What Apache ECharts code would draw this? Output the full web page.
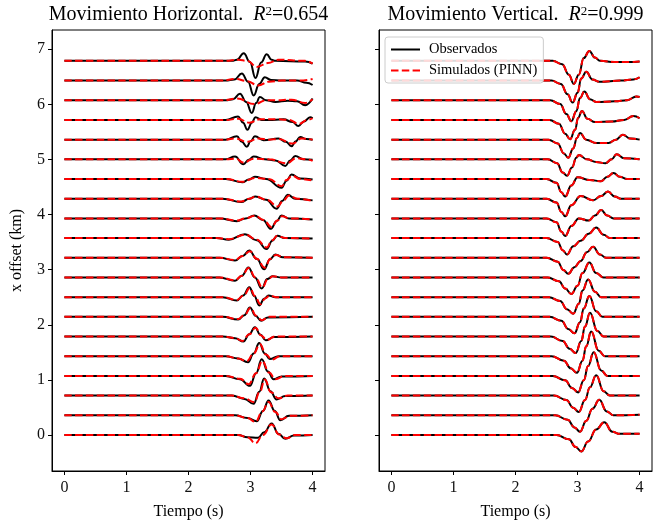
<!DOCTYPE html>
<html><head><meta charset="utf-8">
<script src="https://cdn.jsdelivr.net/npm/echarts@6/dist/echarts.min.js"></script>
<style>html,body{margin:0;padding:0;background:#fff}#c{width:660px;height:525px}</style>
</head><body><div id="c"></div>
<script>
// ---- data ----
const offsets = [0, 0.357, 0.715, 1.072, 1.429, 1.787, 2.144, 2.501, 2.859, 3.216,
                 3.574, 3.931, 4.288, 4.646, 5.003, 5.360, 5.718, 6.075, 6.432, 6.790];
const timeTicks = [0, 1, 2, 3, 4];
const offsetTicks = [0, 1, 2, 3, 4, 5, 6, 7];
const titleH = 'Movimiento Horizontal.';
const titleV = 'Movimiento Vertical.';
const r2H = '0.654';
const r2V = '0.999';

// keypoints [time (s), amplitude (km units)] per trace, index 0 = bottom trace
const hObs = [
 [[0,0],[2.8,0],[2.95,-0.04],[3.12,-0.05],[3.22,0.05],[3.34,0.21],[3.45,0.02],[3.56,-0.07],[3.7,-0.01],[4,0]],
 [[0,0],[2.75,0],[2.95,-0.05],[3.1,-0.11],[3.2,0.08],[3.29,0.27],[3.39,0.08],[3.48,-0.09],[3.62,-0.01],[4,0]],
 [[0,0],[2.7,0],[2.9,-0.06],[3.05,-0.15],[3.14,0.07],[3.22,0.31],[3.32,0.08],[3.42,-0.07],[3.56,-0.01],[4,0]],
 [[0,0],[2.6,0],[2.83,-0.06],[2.99,-0.18],[3.09,0.05],[3.18,0.30],[3.28,0.08],[3.37,-0.06],[3.5,-0.01],[4,0]],
 [[0,0],[2.6,0],[2.8,-0.04],[2.96,-0.11],[3.05,0.05],[3.14,0.24],[3.23,0.05],[3.31,-0.05],[3.45,0],[4,0]],
 [[0,0],[2.55,0],[2.75,-0.03],[2.885,-0.09],[2.98,0.04],[3.07,0.17],[3.16,0.03],[3.245,-0.07],[3.38,-0.01],[4,0]],
 [[0,0],[2.55,0],[2.8,-0.05],[2.9,0.03],[2.99,0.17],[3.08,0.02],[3.17,-0.07],[3.28,-0.01],[4,0]],
 [[0,0],[2.55,0],[2.78,-0.06],[2.88,0.03],[2.98,0.18],[3.06,0.02],[3.14,-0.15],[3.22,-0.03],[3.29,0.03],[3.4,0],[4,0]],
 [[0,0],[2.5,0],[2.75,-0.06],[2.86,0.03],[2.965,0.18],[3.07,0.0],[3.18,-0.2],[3.27,-0.03],[3.35,0.02],[3.5,0],[4,0]],
 [[0,0],[2.5,0],[2.75,-0.05],[2.87,0.03],[2.98,0.13],[3.1,-0.02],[3.22,-0.21],[3.31,-0.03],[3.4,0.06],[3.52,0.01],[4,0]],
 [[0,0],[2.45,0],[2.65,-0.03],[2.91,0.07],[3.1,-0.04],[3.26,-0.2],[3.35,-0.05],[3.43,0.04],[3.55,0],[4,-0.01]],
 [[0,0],[2.5,0],[2.78,-0.05],[2.92,0.0],[3.06,0.05],[3.2,-0.03],[3.33,-0.19],[3.42,-0.05],[3.5,0.05],[3.62,0.0],[4,-0.02]],
 [[0,0],[2.55,0],[2.85,-0.06],[2.98,0.0],[3.08,0.04],[3.25,-0.02],[3.42,-0.18],[3.51,-0.04],[3.6,0.07],[3.72,0.0],[4,-0.03]],
 [[0,0],[2.6,0],[2.87,-0.06],[2.97,-0.01],[3.07,0.04],[3.25,0.0],[3.5,-0.16],[3.58,-0.03],[3.66,0.08],[3.8,0.01],[4,-0.01]],
 [[0,0],[2.6,0],[2.75,0.05],[2.885,-0.09],[2.97,-0.01],[3.05,0.05],[3.23,0.0],[3.4,-0.02],[3.56,-0.12],[3.64,-0.02],[3.72,0.06],[3.85,0.0],[4,-0.01]],
 [[0,0],[2.6,0],[2.78,0.06],[2.86,-0.04],[2.94,-0.13],[3.0,-0.03],[3.07,0.06],[3.21,-0.01],[3.45,0.02],[3.57,-0.04],[3.66,-0.12],[3.73,-0.03],[3.8,0.05],[3.9,0.01],[4,0]],
 [[0,0],[2.6,0],[2.8,0.06],[2.88,-0.05],[2.95,-0.18],[3.02,-0.05],[3.08,0.05],[3.18,0.0],[3.29,0.0],[3.53,0.01],[3.68,-0.04],[3.77,-0.11],[3.86,-0.03],[3.96,0.05],[4,0.03]],
 [[0,0],[2.6,0],[2.72,0.02],[2.83,0.12],[2.93,-0.03],[3.02,-0.23],[3.09,-0.05],[3.15,0.06],[3.25,0.0],[3.4,-0.03],[3.6,-0.01],[3.75,-0.02],[3.88,-0.09],[4,0.03]],
 [[0,0],[2.6,0],[2.74,0.02],[2.86,0.13],[2.96,-0.02],[3.05,-0.27],[3.14,-0.06],[3.23,0.06],[3.33,0.01],[3.5,0.0],[3.75,0.0],[3.9,-0.04],[4,-0.08]],
 [[0,0],[2.7,0],[2.78,0.02],[2.89,0.14],[2.99,-0.02],[3.08,-0.31],[3.17,-0.03],[3.26,0.12],[3.34,0.02],[3.4,0.0],[3.88,-0.01],[4,-0.05]]
];
const hSim = [
 [[0,0],[2.8,0],[2.95,-0.04],[3.08,-0.15],[3.2,0.0],[3.34,0.19],[3.46,0.01],[3.58,-0.06],[3.72,0],[4,0]],
 [[0,0],[2.75,0],[2.95,-0.05],[3.08,-0.12],[3.19,0.07],[3.29,0.24],[3.4,0.06],[3.5,-0.07],[3.64,-0.01],[4,0]],
 [[0,0],[2.7,0],[2.9,-0.05],[3.06,-0.12],[3.15,0.07],[3.23,0.29],[3.33,0.06],[3.45,-0.05],[3.6,0],[4,0]],
 [[0,0],[2.6,0],[2.83,-0.05],[2.97,-0.15],[3.09,0.05],[3.19,0.27],[3.3,0.06],[3.4,-0.06],[3.55,0],[4,0]],
 [[0,0],[2.6,0],[2.8,-0.04],[2.94,-0.09],[3.05,0.05],[3.15,0.22],[3.25,0.03],[3.34,-0.06],[3.48,0],[4,0]],
 [[0,0],[2.55,0],[2.75,-0.03],[2.87,-0.08],[2.98,0.04],[3.08,0.16],[3.17,0.02],[3.26,-0.06],[3.4,0],[4,0]],
 [[0,0],[2.55,0],[2.8,-0.04],[2.9,0.03],[3.0,0.16],[3.09,0.02],[3.18,-0.06],[3.3,0],[4,0]],
 [[0,0],[2.55,0],[2.78,-0.05],[2.89,0.03],[2.99,0.17],[3.07,0.02],[3.16,-0.13],[3.24,-0.02],[3.31,0.03],[3.42,0],[4,0]],
 [[0,0],[2.5,0],[2.75,-0.05],[2.86,0.03],[2.97,0.17],[3.08,0.0],[3.19,-0.18],[3.28,-0.03],[3.36,0.02],[3.5,0],[4,0]],
 [[0,0],[2.5,0],[2.75,-0.04],[2.87,0.03],[2.99,0.12],[3.1,-0.02],[3.23,-0.18],[3.32,-0.02],[3.41,0.05],[3.53,0.01],[4,0]],
 [[0,0],[2.45,0],[2.65,-0.02],[2.92,0.06],[3.1,-0.03],[3.26,-0.17],[3.35,-0.04],[3.43,0.04],[3.56,0],[4,-0.01]],
 [[0,0],[2.5,0],[2.78,-0.04],[2.92,0.0],[3.07,0.05],[3.21,-0.03],[3.34,-0.16],[3.43,-0.04],[3.51,0.04],[3.63,0],[4,-0.02]],
 [[0,0],[2.55,0],[2.85,-0.05],[2.98,0.0],[3.08,0.04],[3.26,-0.02],[3.44,-0.14],[3.53,-0.03],[3.62,0.06],[3.75,0],[4,-0.04]],
 [[0,0],[2.6,0],[2.87,-0.05],[3.07,0.02],[3.3,0.0],[3.5,-0.13],[3.58,-0.02],[3.67,0.06],[3.8,0.0],[4,-0.03]],
 [[0,0],[2.6,0],[2.77,0.01],[2.885,-0.06],[3.05,0.01],[3.3,0.0],[3.58,-0.07],[3.74,0.02],[3.9,0],[4,-0.03]],
 [[0,0],[2.6,0],[2.75,0.02],[2.95,-0.04],[3.12,0.02],[3.3,0.0],[3.45,0.01],[3.68,-0.07],[3.82,0.02],[4,0]],
 [[0,0],[2.6,0],[2.8,0.02],[2.98,-0.05],[3.15,0.01],[3.45,0.01],[3.62,0.0],[3.78,-0.07],[3.92,0.0],[4,0.03]],
 [[0,0],[2.55,0],[2.78,0.03],[3.07,-0.07],[3.25,0.0],[3.4,0.0],[3.66,0.01],[3.88,-0.05],[4,0.02]],
 [[0,0],[2.55,0],[2.75,0.03],[2.95,-0.01],[3.12,-0.09],[3.3,-0.02],[3.5,0.0],[3.8,0.0],[4,0.03]],
 [[0,0],[2.6,0],[2.8,0.02],[2.95,0.0],[3.1,-0.11],[3.28,-0.04],[3.45,0.02],[3.88,0.0],[4,-0.05]]
];
const vObs = [
 [[0,0],[2.66,0],[2.86,-0.08],[2.97,-0.22],[3.06,-0.3],[3.17,-0.12],[3.3,0.1],[3.43,0.23],[3.56,0.06],[3.68,0.02],[4,0.02]],
 [[0,0],[2.64,0],[2.84,-0.08],[2.95,-0.22],[3.04,-0.3],[3.14,-0.1],[3.24,0.12],[3.35,0.28],[3.47,0.07],[3.58,0.0],[4,0.01]],
 [[0,0],[2.62,0],[2.82,-0.08],[2.93,-0.22],[3.02,-0.3],[3.12,-0.08],[3.2,0.15],[3.3,0.37],[3.42,0.08],[3.52,0.0],[4,0.0]],
 [[0,0],[2.6,0],[2.8,-0.08],[2.91,-0.22],[3.01,-0.3],[3.1,-0.08],[3.17,0.18],[3.26,0.43],[3.38,0.1],[3.48,0.0],[4,0.0]],
 [[0,0],[2.58,0],[2.78,-0.08],[2.89,-0.22],[2.99,-0.3],[3.08,-0.08],[3.14,0.18],[3.22,0.45],[3.34,0.1],[3.44,0.0],[4,0.0]],
 [[0,0],[2.57,0],[2.76,-0.08],[2.87,-0.22],[2.97,-0.3],[3.06,-0.08],[3.12,0.18],[3.2,0.43],[3.32,0.1],[3.42,0.0],[4,0.0]],
 [[0,0],[2.55,0],[2.74,-0.07],[2.85,-0.22],[2.95,-0.3],[3.04,-0.1],[3.1,0.15],[3.19,0.38],[3.3,0.1],[3.4,0.0],[4,0.0]],
 [[0,0],[2.54,0],[2.72,-0.07],[2.83,-0.22],[2.93,-0.3],[3.02,-0.12],[3.08,0.12],[3.17,0.32],[3.28,0.1],[3.38,0.0],[4,0.0]],
 [[0,0],[2.52,0],[2.7,-0.07],[2.8,-0.2],[2.9,-0.3],[3.0,-0.15],[3.08,0.08],[3.19,0.27],[3.3,0.08],[3.42,0.0],[4,0.0]],
 [[0,0],[2.5,0],[2.68,-0.07],[2.77,-0.22],[2.85,-0.29],[2.95,-0.17],[3.05,-0.06],[3.15,0.1],[3.25,0.2],[3.36,0.06],[3.46,0.0],[4,0.0]],
 [[0,0],[2.5,0],[2.68,-0.07],[2.76,-0.22],[2.83,-0.3],[2.93,-0.15],[3.05,-0.05],[3.18,0.08],[3.3,0.19],[3.42,0.06],[3.52,0.0],[4,0.0]],
 [[0,0],[2.5,0],[2.66,-0.07],[2.74,-0.24],[2.8,-0.32],[2.9,-0.14],[3.02,0.0],[3.18,-0.04],[3.28,0.05],[3.38,0.15],[3.48,0.05],[3.58,0.0],[4,0.0]],
 [[0,0],[2.5,0],[2.66,-0.07],[2.74,-0.24],[2.8,-0.32],[2.9,-0.12],[3.05,0.05],[3.25,-0.03],[3.38,0.05],[3.49,0.13],[3.6,0.04],[3.7,0.0],[4,0.0]],
 [[0,0],[2.5,0],[2.66,-0.07],[2.74,-0.24],[2.8,-0.32],[2.9,-0.12],[3.0,0.03],[3.2,-0.02],[3.38,-0.04],[3.48,0.04],[3.58,0.11],[3.68,0.04],[3.8,0.0],[4,0.0]],
 [[0,0],[2.52,0],[2.67,-0.07],[2.76,-0.24],[2.83,-0.3],[2.91,-0.15],[2.98,0.03],[3.02,0.08],[3.15,0.0],[3.3,-0.05],[3.45,-0.07],[3.55,0.0],[3.63,0.09],[3.75,0.02],[4,0.0]],
 [[0,0],[2.53,0],[2.68,-0.07],[2.78,-0.25],[2.85,-0.33],[2.93,-0.16],[2.99,0.03],[3.04,0.12],[3.14,0.0],[3.3,-0.06],[3.5,-0.06],[3.62,0.0],[3.73,0.09],[3.85,0.02],[4,0.0]],
 [[0,0],[2.55,0],[2.7,-0.07],[2.8,-0.25],[2.88,-0.35],[2.96,-0.18],[3.01,0.04],[3.07,0.16],[3.16,0.02],[3.28,-0.04],[3.55,-0.03],[3.75,0.0],[3.9,0.07],[4,0.03]],
 [[0,0],[2.56,0],[2.72,-0.07],[2.82,-0.25],[2.9,-0.38],[2.98,-0.2],[3.04,0.04],[3.11,0.16],[3.2,0.02],[3.3,-0.03],[3.6,-0.02],[3.8,0.0],[3.95,0.07],[4,0.06]],
 [[0,0],[2.58,0],[2.73,-0.06],[2.84,-0.25],[2.92,-0.4],[3.0,-0.22],[3.06,0.04],[3.14,0.16],[3.24,0.02],[3.35,-0.02],[3.7,0.0],[3.9,0.02],[4,0.06]],
 [[0,0],[2.6,0],[2.75,-0.06],[2.86,-0.25],[2.94,-0.42],[3.02,-0.25],[3.1,0.05],[3.19,0.18],[3.28,0.06],[3.36,0.0],[3.6,-0.02],[3.85,-0.02],[4,-0.01]]
];
// in the vertical panel the simulated traces lie on top of the observed ones
const vSim = vObs;

// ---- styling / build ----
const FONT = 'Liberation Serif';
const black = '#000000', red = '#ff0000';

function traceSeries(traces, name, color, dashed, axis, z) {
  return traces.map((pts, i) => ({
    type: 'line', name: name, xAxisIndex: axis, yAxisIndex: axis,
    data: pts.map(p => [p[0], offsets[i] + p[1]]),
    showSymbol: false, symbol: 'none', smooth: 0.45, smoothMonotone: 'x',
    lineStyle: { color: color, width: 2, type: dashed ? [7.5, 3.3] : 'solid' },
    itemStyle: { color: color },
    silent: true, animation: false, z: z
  }));
}

function xAx(gi) {
  return {
    gridIndex: gi, type: 'value', min: -0.2, max: 4.2,
    name: 'Tiempo (s)', nameLocation: 'middle', nameGap: 33,
    nameTextStyle: { fontFamily: FONT, fontSize: 16, color: '#000' },
    axisLine: { show: true, onZero: false, lineStyle: { color: '#000', width: 1 } },
    axisTick: { show: true, customValues: timeTicks, length: 4, lineStyle: { color: '#000' } },
    axisLabel: { show: true, customValues: timeTicks, fontFamily: FONT, fontSize: 16, color: '#111', margin: 9 },
    splitLine: { show: false }
  };
}
function yAx(gi, labels) {
  return {
    gridIndex: gi, type: 'value', min: -0.654, max: 7.35,
    name: labels ? 'x offset (km)' : '', nameLocation: 'middle', nameGap: 27, nameRotate: 90,
    nameTextStyle: { fontFamily: FONT, fontSize: 16, color: '#000' },
    axisLine: { show: true, onZero: false, lineStyle: { color: '#000', width: 1 } },
    axisTick: { show: true, customValues: offsetTicks, length: 4, lineStyle: { color: '#000' } },
    axisLabel: { show: labels, customValues: offsetTicks, fontFamily: FONT, fontSize: 16, color: '#111', margin: 7 },
    splitLine: { show: false }
  };
}

const titleRich = {
  n: { fontFamily: FONT, fontSize: 20, color: '#000' },
  i: { fontFamily: FONT, fontSize: 20, fontStyle: 'italic', color: '#000' },
  s: { fontFamily: FONT, fontSize: 13, color: '#000', verticalAlign: 'top', lineHeight: 13 }
};

const chart = echarts.init(document.getElementById('c'), null, { renderer: 'canvas' });
chart.setOption({
  backgroundColor: '#ffffff',
  animation: false,
  grid: [
    { left: 52, top: 30, width: 273, height: 448, show: true, borderColor: '#000', borderWidth: 1, backgroundColor: 'transparent' },
    { left: 379, top: 30, width: 273, height: 448, show: true, borderColor: '#000', borderWidth: 1, backgroundColor: 'transparent' }
  ],
  xAxis: [xAx(0), xAx(1)],
  yAxis: [yAx(0, true), yAx(1, false)],
  legend: {
    left: 385, top: 37, orient: 'vertical',
    data: ['Observados', 'Simulados (PINN)'],
    itemWidth: 29, itemHeight: 12, itemGap: 6,
    itemStyle: { opacity: 0 },
    backgroundColor: 'rgba(255,255,255,0.85)', borderColor: '#cccccc', borderWidth: 1, borderRadius: 3,
    padding: [5, 6, 5, 5],
    textStyle: { fontFamily: FONT, fontSize: 14.5, color: '#000', padding: [0, 0, 0, 4] }
  },
  graphic: [
    { type: 'text', x: 188.5, y: 5, style: { text: '{n|' + titleH + '  }{i|R}{s|2}{n|=' + r2H + '}', rich: titleRich, textAlign: 'center' } },
    { type: 'text', x: 515.5, y: 5, style: { text: '{n|' + titleV + '  }{i|R}{s|2}{n|=' + r2V + '}', rich: titleRich, textAlign: 'center' } }
  ],
  series: [].concat(
    traceSeries(hObs, 'Observados', black, false, 0, 2),
    traceSeries(hSim, 'Simulados (PINN)', red, true, 0, 3),
    traceSeries(vObs, 'Observados', black, false, 1, 2),
    traceSeries(vSim, 'Simulados (PINN)', red, true, 1, 3)
  )
});
</script>
</body></html>
